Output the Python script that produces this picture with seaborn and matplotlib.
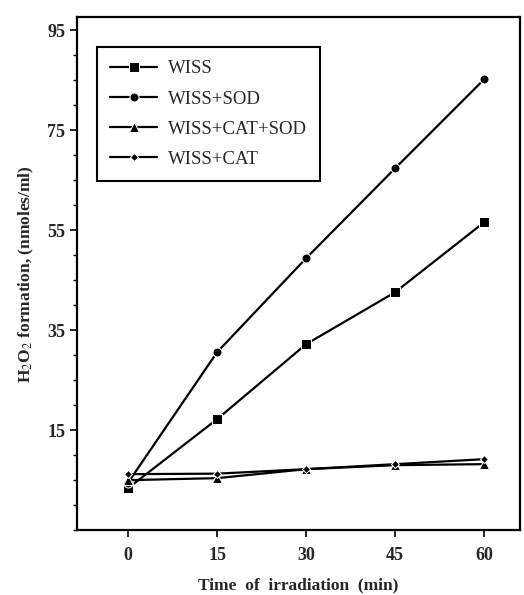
import pandas as pd
import matplotlib.pyplot as plt
import seaborn as sns
from matplotlib.ticker import MultipleLocator

# valores
tempo = [0, 15, 30, 45, 60]
wiss = [3.4, 17.2, 32.2, 42.6, 56.6]
wiss_sod = [4.5, 30.6, 49.4, 67.4, 85.2]
wiss_cat_sod = [5.0, 5.4, 7.2, 8.0, 8.2]
wiss_cat = [6.2, 6.3, 7.2, 8.2, 9.2]

series = ['WISS', 'WISS+SOD', 'WISS+CAT+SOD', 'WISS+CAT']
valores = [wiss, wiss_sod, wiss_cat_sod, wiss_cat]

df = pd.DataFrame({
    'tempo': tempo * len(series),
    'h2o2': [v for vals in valores for v in vals],
    'amostra': [s for s in series for _ in tempo],
})

sns.set_style("ticks")
plt.rcParams['font.family'] = ['Liberation Serif', 'DejaVu Serif']
plt.rcParams['mathtext.fontset'] = 'stix'

fig = plt.figure(figsize=(5.24, 5.95), dpi=100)
ax = fig.add_axes([0.147, 0.109, 0.845, 0.862])

marcadores = {'WISS': 's', 'WISS+SOD': 'o', 'WISS+CAT+SOD': '^', 'WISS+CAT': 'D'}
tamanhos = {'WISS': 6.5, 'WISS+SOD': 6.5, 'WISS+CAT+SOD': 6.5, 'WISS+CAT': 4.5}

for s in series:
    sns.lineplot(
        data=df[df['amostra'] == s], x='tempo', y='h2o2',
        color='black', marker=marcadores[s], markersize=tamanhos[s],
        linewidth=1.6, label=s, ax=ax,
    )

ax.set_xlim(-8.6, 66)
ax.set_ylim(-5, 97.6)
ax.set_xticks(tempo)
ax.set_yticks([15, 35, 55, 75, 95])
ax.yaxis.set_minor_locator(MultipleLocator(5))
ax.tick_params(axis='both', which='major', length=5, width=1.2, labelsize=13, color='black')
ax.tick_params(axis='x', which='major', pad=7)
ax.tick_params(axis='y', which='minor', length=3, width=1, color='black')
for lbl in ax.get_xticklabels() + ax.get_yticklabels():
    lbl.set_fontweight('bold')

for sp in ax.spines.values():
    sp.set_visible(True)
    sp.set_linewidth(1.6)
    sp.set_color('black')

ax.set_xlabel("Time  of  irradiation  (min)", fontsize=12.5, fontweight='bold', labelpad=10)
ax.set_ylabel("H$_2$O$_2$ formation, (nmoles/ml)", fontsize=12.5, fontweight='bold', labelpad=8)

leg = ax.legend(loc='upper left', bbox_to_anchor=(0.045, 0.942), borderaxespad=0,
                fancybox=False, frameon=True, fontsize=13.5, handlelength=2.5,
                labelspacing=0.7, borderpad=0.7, handletextpad=0.6)
leg.get_frame().set_edgecolor('black')
leg.get_frame().set_linewidth(1.5)
leg.get_frame().set_alpha(1)

plt.savefig('out.png', dpi=100)
